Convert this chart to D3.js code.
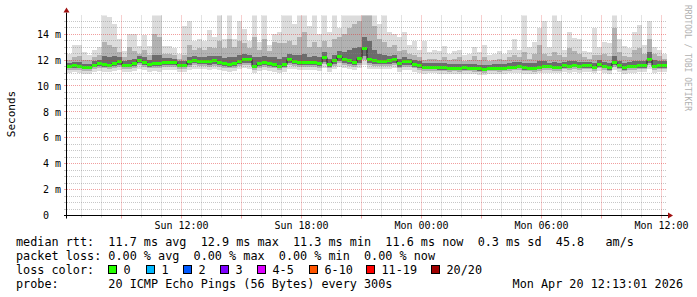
<!DOCTYPE html>
<html>
<head>
<meta charset="utf-8">
<script src="https://cdn.jsdelivr.net/npm/d3@7"></script>
<style>
  body { margin: 0; background: #fff; }
  text { font-family: "DejaVu Sans Mono", monospace; }
</style>
</head>
<body>
<svg id="chart" width="697" height="297"></svg>
<script>
// ---------------------- data (ms, one value per 15 min step) ----------------------
const stepStart = new Date(2026, 3, 19, 6, 18);
const stepMinutes = 15;

const median = [
  11.55, 11.6, 11.55, 11.45, 11.45, 11.65, 11.75, 11.7, 11.65, 11.78, 11.95, 11.65, 11.65, 11.75, 12.03, 11.88, 11.7, 11.78, 11.75, 11.88, 11.88, 11.88, 11.65, 11.65,
  11.9, 12.0, 11.95, 11.95, 11.9, 12.0, 11.85, 11.78, 11.7, 11.78, 11.95, 12.1, 12.05, 11.55, 11.8, 11.85, 11.8, 11.7, 11.55, 11.7, 12.05, 11.95, 11.85, 11.85,
  11.88, 11.88, 11.8, 12.2, 11.7, 12.0, 12.3, 12.1, 12.0, 11.85, 12.15, 12.9, 12.1, 12.0, 11.95, 11.95, 12.0, 12.1, 11.75, 11.9, 11.9, 11.7, 11.6, 11.45,
  11.5, 11.5, 11.45, 11.45, 11.4, 11.42, 11.4, 11.45, 11.42, 11.38, 11.35, 11.32, 11.42, 11.42, 11.4, 11.42, 11.48, 11.5, 11.55, 11.45, 11.42, 11.4, 11.5, 11.58,
  11.55, 11.5, 11.5, 11.6, 11.55, 11.65, 11.55, 11.6, 11.6, 11.5, 11.72, 11.55, 11.45, 11.85, 11.6, 11.45, 11.55, 11.58, 11.6, 11.62, 12.1, 11.55, 11.6, 11.62
];

// smoke: spread of the 20 pings per step
const smokeMax = [
  12.5, 13.2, 13.2, 12.6, 12.4, 12.8, 13.0, 15.5, 15.3, 14.8, 13.6, 12.7, 14.0, 14.0, 13.1, 13.9, 13.1, 15.5, 15.5, 13.1, 13.1, 12.9, 12.5, 14.6,
  15.0, 13.5, 13.6, 13.5, 14.3, 13.8, 15.5, 13.6, 15.5, 13.6, 15.0, 14.4, 13.5, 15.5, 13.4, 15.5, 13.2, 14.0, 14.2, 15.5, 15.5, 14.8, 15.5, 15.5,
  14.6, 15.5, 14.0, 15.5, 14.2, 15.5, 14.5, 15.5, 15.5, 15.5, 15.5, 15.5, 15.5, 15.5, 14.8, 15.5, 14.2, 14.0, 13.8, 14.2, 13.2, 13.5, 12.8, 13.5,
  12.6, 12.8, 12.7, 13.1, 12.5, 12.7, 12.8, 12.4, 12.5, 13.0, 12.6, 13.2, 12.4, 12.5, 12.7, 12.5, 12.8, 13.6, 12.8, 15.5, 13.0, 13.4, 14.5, 15.0,
  13.0, 15.5, 15.0, 12.8, 14.2, 13.7, 13.6, 12.7, 12.6, 14.5, 13.0, 13.4, 13.3, 15.5, 13.6, 13.1, 12.9, 14.2, 14.7, 13.2, 15.0, 13.0, 12.8, 12.5
];
const smokeHigh = [
  12.0, 12.2, 12.3, 12.0, 12.0, 12.2, 12.4, 13.4, 13.2, 13.0, 12.6, 12.2, 13.0, 12.7, 12.5, 12.8, 12.4, 14.0, 13.8, 12.5, 12.5, 12.4, 12.1, 12.4,
  13.2, 12.8, 12.9, 12.8, 13.0, 12.9, 13.5, 12.9, 13.6, 13.0, 13.5, 13.3, 12.9, 13.8, 12.8, 13.6, 12.7, 13.4, 13.3, 13.3, 13.5, 13.2, 13.8, 14.2,
  13.0, 13.4, 13.0, 13.5, 13.0, 13.6, 13.8, 14.0, 14.5, 14.8, 15.0, 15.5, 15.5, 14.6, 13.6, 13.4, 13.0, 13.2, 12.7, 12.8, 12.5, 12.4, 12.2, 12.0,
  12.1, 12.1, 12.0, 12.2, 12.0, 12.1, 12.2, 11.95, 12.0, 12.3, 12.0, 12.2, 11.9, 12.0, 12.1, 12.0, 12.2, 12.4, 12.2, 12.6, 12.1, 12.5, 13.2, 12.5,
  12.3, 12.6, 12.4, 12.2, 12.9, 12.7, 12.5, 12.2, 12.1, 12.4, 12.4, 12.5, 12.3, 14.5, 12.6, 12.3, 12.2, 12.8, 12.9, 12.5, 13.6, 12.5, 12.3, 12.1
];
const smokeDarkHigh = [
  11.8, 11.85, 11.85, 11.7, 11.7, 11.9, 12.0, 12.3, 12.2, 12.3, 12.2, 11.9, 12.0, 12.1, 12.3, 12.2, 12.0, 12.4, 12.4, 12.15, 12.15, 12.1, 11.9, 11.95,
  12.2, 12.3, 12.25, 12.25, 12.3, 12.35, 12.3, 12.15, 12.2, 12.2, 12.4, 12.5, 12.4, 12.2, 12.2, 12.3, 12.2, 12.2, 12.1, 12.2, 12.5, 12.4, 12.4, 12.5,
  12.2, 12.3, 12.2, 12.6, 12.1, 12.4, 12.7, 12.6, 12.8, 12.9, 13.0, 13.8, 13.5, 12.8, 12.5, 12.4, 12.3, 12.4, 12.1, 12.2, 12.1, 12.0, 11.9, 11.75,
  11.8, 11.8, 11.75, 11.75, 11.7, 11.7, 11.7, 11.7, 11.7, 11.7, 11.65, 11.65, 11.65, 11.7, 11.7, 11.7, 11.8, 11.85, 11.85, 11.8, 11.75, 11.8, 11.9, 11.95,
  11.8, 11.85, 11.8, 11.85, 11.9, 11.95, 11.85, 11.85, 11.85, 11.8, 12.0, 11.85, 11.8, 12.3, 11.95, 11.8, 11.85, 11.9, 11.95, 11.95, 12.6, 12.0, 11.9, 11.9
];
const smokeDarkLow = [
  11.35, 11.4, 11.35, 11.28, 11.28, 11.45, 11.52, 11.5, 11.45, 11.55, 11.65, 11.45, 11.45, 11.52, 11.75, 11.65, 11.5, 11.55, 11.52, 11.65, 11.65, 11.65, 11.45, 11.45,
  11.65, 11.75, 11.7, 11.7, 11.65, 11.72, 11.62, 11.55, 11.5, 11.55, 11.7, 11.8, 11.75, 11.35, 11.55, 11.6, 11.55, 11.5, 11.35, 11.5, 11.75, 11.7, 11.6, 11.6,
  11.6, 11.6, 11.55, 11.85, 11.5, 11.7, 11.95, 11.8, 11.7, 11.6, 11.8, 12.3, 11.8, 11.7, 11.7, 11.7, 11.72, 11.8, 11.5, 11.65, 11.65, 11.5, 11.4, 11.28,
  11.3, 11.3, 11.27, 11.27, 11.22, 11.25, 11.22, 11.27, 11.25, 11.2, 11.18, 11.15, 11.25, 11.25, 11.22, 11.25, 11.3, 11.32, 11.35, 11.27, 11.25, 11.22, 11.3, 11.38,
  11.35, 11.3, 11.3, 11.4, 11.35, 11.45, 11.35, 11.4, 11.4, 11.3, 11.5, 11.35, 11.27, 11.6, 11.4, 11.27, 11.35, 11.38, 11.4, 11.42, 11.8, 11.35, 11.4, 11.42
];
const smokeLow = [
  11.22, 11.25, 11.22, 11.15, 11.15, 11.3, 11.38, 11.35, 11.3, 11.4, 11.5, 11.3, 11.3, 11.38, 11.6, 11.5, 11.35, 11.4, 11.38, 11.5, 11.5, 11.5, 11.3, 11.3,
  11.5, 11.6, 11.55, 11.55, 11.5, 11.58, 11.48, 11.4, 11.35, 11.4, 11.55, 11.65, 11.6, 11.22, 11.42, 11.45, 11.4, 11.35, 11.22, 11.35, 11.6, 11.55, 11.45, 11.45,
  11.45, 11.45, 11.4, 11.7, 11.35, 11.55, 11.8, 11.65, 11.55, 11.45, 11.65, 12.0, 11.6, 11.55, 11.55, 11.55, 11.58, 11.65, 11.35, 11.5, 11.5, 11.35, 11.25, 11.15,
  11.18, 11.18, 11.15, 11.15, 11.1, 11.12, 11.1, 11.15, 11.12, 11.08, 11.05, 11.03, 11.12, 11.12, 11.1, 11.12, 11.18, 11.2, 11.22, 11.15, 11.12, 11.1, 11.18, 11.25,
  11.22, 11.18, 11.18, 11.28, 11.22, 11.3, 11.22, 11.28, 11.28, 11.18, 11.38, 11.22, 11.15, 11.45, 11.28, 11.15, 11.22, 11.25, 11.28, 11.3, 11.6, 11.22, 11.28, 11.3
];
const smokeMin = [
  11.0, 11.05, 11.0, 10.95, 10.95, 11.08, 11.15, 11.1, 11.08, 11.15, 11.25, 11.08, 11.05, 11.12, 11.3, 11.22, 11.1, 11.12, 11.1, 11.25, 11.25, 11.22, 11.08, 11.05,
  11.25, 11.3, 11.3, 11.3, 11.25, 11.3, 11.2, 11.15, 11.1, 11.15, 11.3, 11.35, 11.3, 11.0, 11.18, 11.2, 11.18, 11.1, 11.0, 11.1, 11.3, 11.3, 11.2, 11.2,
  11.2, 11.2, 11.15, 11.4, 11.1, 11.3, 11.5, 11.35, 11.3, 11.2, 11.35, 11.6, 11.3, 11.3, 11.3, 11.3, 11.32, 11.35, 11.1, 11.25, 11.22, 11.1, 11.02, 10.95,
  10.98, 10.98, 10.95, 10.95, 10.92, 10.93, 10.9, 10.95, 10.92, 10.9, 10.88, 10.85, 10.92, 10.92, 10.9, 10.92, 10.98, 11.0, 11.0, 10.95, 10.92, 10.9, 10.98, 11.02,
  11.0, 10.98, 10.98, 11.05, 11.0, 11.08, 11.0, 11.05, 11.05, 10.98, 11.12, 11.0, 10.95, 11.2, 11.05, 10.95, 11.0, 11.02, 11.05, 11.08, 11.3, 11.0, 11.05, 11.08
];

const yTickValues = [0, 2, 4, 6, 8, 10, 12, 14];

const legendRtt = "median rtt:  11.7 ms avg  12.9 ms max  11.3 ms min  11.6 ms now  0.3 ms sd  45.8   am/s";
const legendLoss = "packet loss: 0.00 % avg  0.00 % max  0.00 % min  0.00 % now";
const lossLabels = ["0", "1", "2", "3", "4-5", "6-10", "11-19", "20/20"];
const lossColors = ["#26ff00", "#00b8ff", "#0059ff", "#7e00ff", "#dd00ff", "#ff5500", "#ff0000", "#a00000"];
const legendProbe = "probe:       20 ICMP Echo Pings (56 Bytes) every 300s";
const legendDate = "Mon Apr 20 12:13:01 2026";

// ---------------------- layout ---------------------------
const plotLeft = 67, plotRight = 667, plotTop = 15.5, plotBottom = 215.5;
const startTime = stepStart;
const endTime = d3.timeHour.offset(startTime, 30);
const stepTime = i => d3.timeMinute.offset(stepStart, i * stepMinutes);

const svg = d3.select("#chart");
svg.append("rect").attr("width", 697).attr("height", 297).attr("fill", "#fff");

const x = d3.scaleTime().domain([startTime, endTime]).range([plotLeft, plotRight]);
const y = d3.scaleLinear().domain([0, 15.44]).range([plotBottom, plotTop]);

svg.append("clipPath").attr("id", "plotclip")
  .append("rect").attr("x", plotLeft).attr("y", plotTop)
  .attr("width", plotRight - plotLeft).attr("height", plotBottom - plotTop);

const plot = svg.append("g").attr("clip-path", "url(#plotclip)");

// smoke bands, lightest first
const bands = [
  { lo: smokeMin, hi: smokeMax, color: "#dcdcdc" },
  { lo: smokeLow, hi: smokeHigh, color: "#b2b2b2" },
  { lo: smokeDarkLow, hi: smokeDarkHigh, color: "#6c6c6c" }
];
bands.forEach(b => {
  plot.append("g").selectAll("rect")
    .data(median.map((m, i) => i))
    .join("rect")
    .attr("shape-rendering", "crispEdges")
    .attr("x", i => x(stepTime(i)))
    .attr("width", i => x(stepTime(i + 1)) - x(stepTime(i)))
    .attr("y", i => y(b.hi[i]))
    .attr("height", i => y(b.lo[i]) - y(b.hi[i]))
    .attr("fill", b.color);
});

// ---------------------- grid ---------------------------
const grid = svg.append("g");
const minorColor = "rgba(130,130,130,0.45)";
const majorColor = "rgba(225,40,40,0.45)";
const isMajorY = v => Math.abs(v % 2) < 1e-9;

d3.range(0.5, 15.44, 0.5).filter(v => !isMajorY(v)).forEach(v => {
  const yy = Math.floor(y(v)) + 0.5;
  grid.append("line").attr("x1", plotLeft).attr("x2", plotRight).attr("y1", yy).attr("y2", yy)
    .attr("stroke", minorColor).attr("stroke-dasharray", "1,1");
  grid.append("line").attr("x1", plotLeft - 3).attr("x2", plotLeft).attr("y1", yy).attr("y2", yy)
    .attr("stroke", minorColor);
});
yTickValues.filter(v => v > 0).forEach(v => {
  const yy = Math.floor(y(v)) + 0.5;
  grid.append("line").attr("x1", plotLeft).attr("x2", plotRight).attr("y1", yy).attr("y2", yy)
    .attr("stroke", majorColor).attr("stroke-dasharray", "1,1");
  grid.append("line").attr("x1", plotLeft - 3).attr("x2", plotLeft).attr("y1", yy).attr("y2", yy)
    .attr("stroke", majorColor);
});

x.ticks(d3.timeHour.every(1)).forEach(t => {
  const xx = Math.round(x(t)) + 0.5;
  const major = t.getHours() % 3 === 0;
  grid.append("line").attr("x1", xx).attr("x2", xx).attr("y1", plotTop).attr("y2", plotBottom)
    .attr("stroke", major ? majorColor : minorColor).attr("stroke-dasharray", "1,1");
  grid.append("line").attr("x1", xx).attr("x2", xx).attr("y1", plotBottom).attr("y2", plotBottom + (major ? 3 : 2))
    .attr("stroke", major ? majorColor : minorColor);
});

// ---------------------- median ---------------------------
const medPts = median.map((m, i) => [stepTime(i), m]);
medPts.push([stepTime(median.length), median[median.length - 1]]);
plot.append("path")
  .attr("d", d3.line().x(d => Math.round(x(d[0]))).y(d => Math.round(y(d[1])) + 0.5).curve(d3.curveStepAfter)(medPts))
  .attr("fill", "none").attr("stroke", "#202020").attr("stroke-width", 1);
plot.append("g").selectAll("rect")
  .data(median.map((m, i) => i))
  .join("rect")
  .attr("shape-rendering", "crispEdges")
  .attr("x", i => x(stepTime(i)))
  .attr("width", i => x(stepTime(i + 1)) - x(stepTime(i)))
  .attr("y", i => Math.round(y(median[i])) - 1)
  .attr("height", 3)
  .attr("fill", lossColors[0]);

// ---------------------- axes ---------------------------
const xAxis = svg.append("g")
  .attr("transform", "translate(0," + plotBottom + ")")
  .call(d3.axisBottom(x).ticks(d3.timeHour.every(6)).tickSize(0).tickFormat(d3.timeFormat("%a %H:%M")));
xAxis.select(".domain").remove();
xAxis.selectAll("text").attr("y", 13).attr("dy", null)
  .attr("font-family", "DejaVu Sans Mono").attr("font-size", 10).attr("fill", "#000");

const yAxis = svg.append("g")
  .attr("transform", "translate(" + plotLeft + ",0)")
  .call(d3.axisLeft(y).tickValues(yTickValues).tickSize(0).tickPadding(6)
    .tickFormat(d => d === 0 ? "0" : d + " m"));
yAxis.select(".domain").remove();
yAxis.selectAll("text")
  .attr("font-family", "DejaVu Sans Mono").attr("font-size", 10).attr("fill", "#000")
  .attr("x", d => d === 0 ? -18 : -6);

// axis lines + arrows
svg.append("line").attr("x1", plotLeft - 3).attr("x2", plotRight + 2).attr("y1", plotBottom).attr("y2", plotBottom)
  .attr("stroke", "#000");
svg.append("line").attr("x1", plotLeft - 0.5).attr("x2", plotLeft - 0.5).attr("y1", plotBottom + 3).attr("y2", plotTop - 3)
  .attr("stroke", "#000");
svg.append("path").attr("d", `M${plotRight + 1},${plotBottom - 3}L${plotRight + 6},${plotBottom}L${plotRight + 1},${plotBottom + 3}Z`)
  .attr("fill", "#a01010");
svg.append("path").attr("d", `M${plotLeft - 3.5},${plotTop - 3}L${plotLeft - 0.5},${plotTop - 8}L${plotLeft + 2.5},${plotTop - 3}Z`)
  .attr("fill", "#a01010");

// y axis title
svg.append("text")
  .attr("transform", "translate(15,114) rotate(-90)")
  .attr("text-anchor", "middle")
  .attr("font-size", 11)
  .text("Seconds");

// watermark
svg.append("text")
  .attr("transform", "translate(684.5,5) rotate(90)")
  .attr("font-size", 8)
  .attr("fill", "#b0b0b0")
  .text("RRDTOOL / TOBI OETIKER");

// ---------------------- legend ---------------------------
const legend = svg.append("g").attr("font-size", 11.8).attr("fill", "#000");
legend.append("text").attr("x", 16).attr("y", 245.5).attr("xml:space", "preserve").style("white-space", "pre").text(legendRtt);
legend.append("text").attr("x", 16).attr("y", 259.5).attr("xml:space", "preserve").style("white-space", "pre").text(legendLoss);
legend.append("text").attr("x", 16).attr("y", 273.5).text("loss color:");
legend.append("text").attr("x", 16).attr("y", 287.5).attr("xml:space", "preserve").style("white-space", "pre").text(legendProbe);
legend.append("text").attr("x", 683).attr("y", 287.5).attr("text-anchor", "end").text(legendDate);

const boxX = [108, 146, 183, 220, 257, 309, 366, 431];
lossLabels.forEach((lab, i) => {
  legend.append("rect").attr("x", boxX[i] + 0.5).attr("y", 265.5).attr("width", 8).attr("height", 8)
    .attr("fill", lossColors[i]).attr("stroke", "#000");
  legend.append("text").attr("x", boxX[i] + 15.5).attr("y", 273.5).text(lab);
});
</script>
</body>
</html>
